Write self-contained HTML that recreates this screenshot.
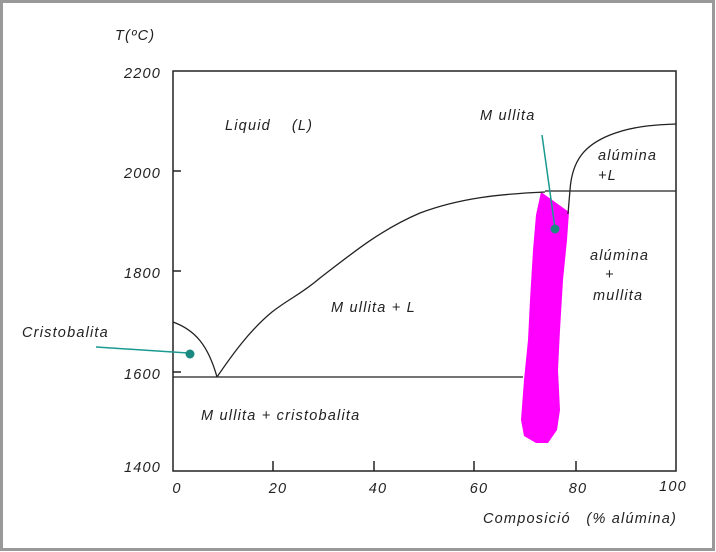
<!DOCTYPE html>
<html><head><meta charset="utf-8"><style>
html,body{margin:0;padding:0;background:#fff}
svg{display:block}
text{font-family:"Liberation Sans",Arial,sans-serif;font-style:italic;font-size:14.5px;fill:#222;letter-spacing:1.2px;white-space:pre}
</style></head><body>
<svg width="716" height="552" viewBox="0 0 716 552">
<rect x="1.5" y="1.5" width="712" height="548" fill="#fff" stroke="#999" stroke-width="3"/>
<rect x="173" y="71" width="503" height="400" fill="none" stroke="#222" stroke-width="1.5"/>
<g stroke="#222" stroke-width="1.5">
<line x1="173" y1="171" x2="181" y2="171"/>
<line x1="173" y1="271" x2="181" y2="271"/>
<line x1="173" y1="372" x2="181" y2="372"/>
<line x1="273" y1="471" x2="273" y2="461"/>
<line x1="374" y1="471" x2="374" y2="461"/>
<line x1="474" y1="471" x2="474" y2="461"/>
<line x1="576" y1="471" x2="576" y2="461"/>
</g>
<path d="M541,192 L569,212 L567,240 L563,280 L560,330 L558,370 L560,410 L557,430 L548,443 L536,443 L524,436 L521,420 L524,380 L528,340 L530,300 L533,250 L536,215 Z" fill="#ff00ff"/>
<g fill="none" stroke="#222" stroke-width="1.3">
<path d="M173,322 C195,330 208,345 217,377"/>
<path d="M217,377 C232,355 250,330 272,312 C290,298 300,295 320,278 C350,255 380,230 420,213 C460,198 500,194 545,192"/>
<line x1="545" y1="191" x2="676" y2="191"/>
<line x1="173" y1="377" x2="523" y2="377"/>
<path d="M568,214 L570,190 C572,160 585,145 610,135 C630,127 650,125 676,124"/>
</g>
<g stroke="#1a9a90" stroke-width="1.5" fill="#1a8a80">
<line x1="96" y1="347" x2="188" y2="353"/>
<circle cx="190" cy="354" r="4.5" stroke="none"/>
<line x1="542" y1="135" x2="555" y2="228"/>
<circle cx="555" cy="229" r="4.5" stroke="none"/>
</g>
<text x="115" y="40">T(ºC)</text>
<g text-anchor="end">
<text x="161" y="78">2200</text>
<text x="161" y="178">2000</text>
<text x="161" y="278">1800</text>
<text x="161" y="379">1600</text>
<text x="161" y="472">1400</text>
</g>
<g text-anchor="middle">
<text x="177" y="493">0</text>
<text x="278" y="493">20</text>
<text x="378" y="493">40</text>
<text x="479" y="493">60</text>
<text x="578" y="493">80</text>
<text x="673" y="491">100</text>
</g>
<text x="483" y="523">Composició   (% alúmina)</text>
<text x="225" y="130">Liquid    (L)</text>
<text x="480" y="120">M ullita</text>
<text x="598" y="160">alúmina</text>
<text x="598" y="180">+L</text>
<text x="590" y="260">alúmina</text>
<text x="605" y="279">+</text>
<text x="593" y="300">mullita</text>
<text x="331" y="312">M ullita + L</text>
<text x="22" y="337">Cristobalita</text>
<text x="201" y="420">M ullita + cristobalita</text>
</svg>
</body></html>
